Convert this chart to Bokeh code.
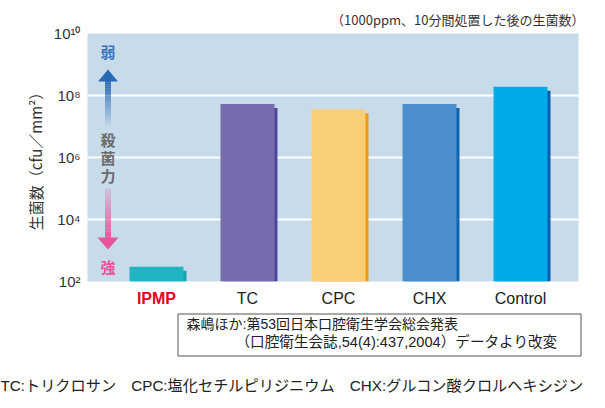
from bokeh.plotting import figure
from bokeh.models import Range1d, FixedTicker
from bokeh.layouts import column
from bokeh.core.properties import value
from bokeh.embed import file_html
from bokeh.resources import INLINE

# ---- data ----
categories = ["IPMP", "TC", "CPC", "CHX", "Control"]
counts = [3.0e2, 5.3e7, 3.6e7, 5.3e7, 1.9e8]
bar_colors = ["#1FB6C2", "#786BAE", "#F9CE78", "#4B8ECB", "#00ACE7"]
shadow_colors = ["#14A2AE", "#4E47A0", "#F29A12", "#0F66B0", "#0A5EAC"]
label_colors = ["#E60020", "#222222", "#222222", "#222222", "#222222"]
label_styles = ["bold", "normal", "normal", "normal", "normal"]
y_ticks = [1e2, 1e4, 1e6, 1e8, 1e10]
y_tick_labels = ["10²", "10⁴", "10⁶", "10⁸", "10¹⁰"]
caption = "（1000ppm、10分間処置した後の生菌数）"
y_title = "生菌数（cfu／mm²）"
source_line1 = "森嶋ほか:第53回日本口腔衛生学会総会発表"
source_line2 = "（口腔衛生会誌,54(4):437,2004）データより改変"
footnote = "TC:トリクロサン　CPC:塩化セチルピリジニウム　CHX:グルコン酸クロルヘキシジン"

JP = "'Liberation Sans', 'Noto Sans CJK JP'"

X0, X1 = -0.758, 4.637
Y0, Y1 = 1e2, 1e10
xs = list(range(len(categories)))
BAR_W = 0.593
W = 605
BL, BR = 87, 27
FT, FH = 33, 248  # frame top / height

# ---- main chart ----
p = figure(width=W, height=FT + FH + 8, x_range=Range1d(X0, X1), y_range=Range1d(Y0, Y1),
           y_axis_type="log", output_backend="svg", toolbar_location=None,
           min_border_left=BL, min_border_right=BR, min_border_top=FT, min_border_bottom=8)
p.background_fill_color = "#C7DBEA"
p.border_fill_color = "white"
p.outline_line_color = None
p.xaxis.visible = False
p.xgrid.visible = False

p.title.text = caption
p.title.align = "right"
p.title.text_font = "Noto Sans CJK JP"
p.title.text_font_size = "13px"
p.title.text_font_style = "normal"
p.title.text_color = "#333333"
p.title.standoff = 10
p.title.offset = -6

ticker = FixedTicker(ticks=y_ticks, minor_ticks=[])
p.yaxis.ticker = ticker
p.ygrid.ticker = ticker
p.ygrid.grid_line_color = "white"
p.ygrid.grid_line_width = 2
p.yaxis.major_label_overrides = dict(zip(y_ticks, y_tick_labels))
p.yaxis.axis_line_color = None
p.yaxis.major_tick_line_color = None
p.yaxis.minor_tick_line_color = None
p.yaxis.major_tick_out = 0
p.yaxis.major_label_standoff = 7
p.yaxis.major_label_text_font = "Liberation Sans"
p.yaxis.major_label_text_font_size = "15px"
p.yaxis.major_label_text_color = "#333333"
p.yaxis.axis_label = y_title
p.yaxis.axis_label_text_font = "Noto Sans CJK JP"
p.yaxis.axis_label_text_font_style = "normal"
p.yaxis.axis_label_text_font_size = "15px"
p.yaxis.axis_label_text_color = "#333333"
p.yaxis.axis_label_standoff = 5

dec_px = (10 - 2) / FH  # decades per pixel of frame height
shadow_x = [x + 3 * (X1 - X0) / 491 for x in xs]
shadow_top = [c * 10 ** (-4 * dec_px) for c in counts]
p.vbar(x=shadow_x, top=shadow_top, bottom=Y0, width=BAR_W, color=shadow_colors, line_color=None)
p.vbar(x=xs, top=counts, bottom=Y0, width=BAR_W, color=bar_colors, line_color=None)

# ---- decorative strength scale (弱 ↑ 殺菌力 ↓ 強) ----
def dx(px):
    return X0 + (px - BL) / 491 * (X1 - X0)

def dy(py):
    return 10 ** (10 - (py - FT) * dec_px)

cx = 107.5
blue = "#2A6AB5"
pink = "#E9559B"
n = 22
top_b, bot_b = 80, 126
for i in range(n):
    a = top_b + (bot_b - top_b) * i / n
    b = top_b + (bot_b - top_b) * (i + 1) / n
    p.quad(left=dx(cx - 3), right=dx(cx + 3), top=dy(a), bottom=dy(b),
           fill_color=blue, fill_alpha=1 - i / n, line_color=None)
p.patch(x=[dx(cx - 10), dx(cx + 10), dx(cx)], y=[dy(81), dy(81), dy(69)],
        fill_color=blue, line_color=None)
top_p, bot_p = 188, 238
for i in range(n):
    a = top_p + (bot_p - top_p) * i / n
    b = top_p + (bot_p - top_p) * (i + 1) / n
    p.quad(left=dx(cx - 3), right=dx(cx + 3), top=dy(a), bottom=dy(b),
           fill_color=pink, fill_alpha=0.15 + 0.85 * (i + 1) / n, line_color=None)
p.patch(x=[dx(cx - 10.5), dx(cx + 10.5), dx(cx)], y=[dy(237), dy(237), dy(249)],
        fill_color=pink, line_color=None)

scale_chars = ["弱", "殺", "菌", "力", "強"]
scale_py = [51, 139, 157, 175, 266]
scale_colors = ["#3A75BE", "#6B6B6B", "#6B6B6B", "#6B6B6B", "#E8559A"]
p.text(x=[dx(cx)] * 5, y=[dy(v) for v in scale_py], text=scale_chars,
       text_color=scale_colors, text_align="center", text_baseline="middle",
       text_font=value("Noto Sans CJK JP"), text_font_size="15px", text_font_style="bold")

# ---- category labels (shares the chart's x scale) ----
q1 = figure(width=W, height=23, x_range=p.x_range, y_range=Range1d(23, 0),
            output_backend="svg", toolbar_location=None,
            min_border_left=BL, min_border_right=BR, min_border_top=0, min_border_bottom=0,
            x_axis_location=None, y_axis_location=None)
q1.outline_line_color = None
q1.xgrid.visible = False
q1.ygrid.visible = False
q1.background_fill_color = "white"
q1.text(x=xs, y=[0.5] * len(xs), text=categories, text_color=label_colors,
        text_font_style=label_styles, text_align="center", text_baseline="top",
        text_font=value("Liberation Sans"), text_font_size="16px")

# ---- source box and footnote ----
q2 = figure(width=W, height=94, x_range=Range1d(0, W), y_range=Range1d(94, 0),
            output_backend="svg", toolbar_location=None, min_border=0,
            x_axis_location=None, y_axis_location=None)
q2.frame_align = False
q2.outline_line_color = None
q2.xgrid.visible = False
q2.ygrid.visible = False
q2.background_fill_color = "white"
q2.border_fill_color = "white"
q2.quad(left=177.5, right=580.5, top=1.5, bottom=43.5, fill_color=None,
        line_color="#555555", line_width=1)
q2.text(x=[186], y=[11], text=[source_line1],
        text_align="left", text_baseline="middle", text_font=value(JP),
        text_font_size="14px", text_color="#222222")
q2.text(x=[235], y=[29.5], text=[source_line2],
        text_align="left", text_baseline="middle", text_font=value(JP),
        text_font_size="14.6px", text_color="#222222")
q2.text(x=[0], y=[72.5], text=[footnote], text_align="left", text_baseline="middle",
        text_font=value(JP), text_font_size="15.2px", text_color="#222222")

layout = column(p, q1, q2, spacing=0)
open("out.html", "w").write(file_html(layout, INLINE))
